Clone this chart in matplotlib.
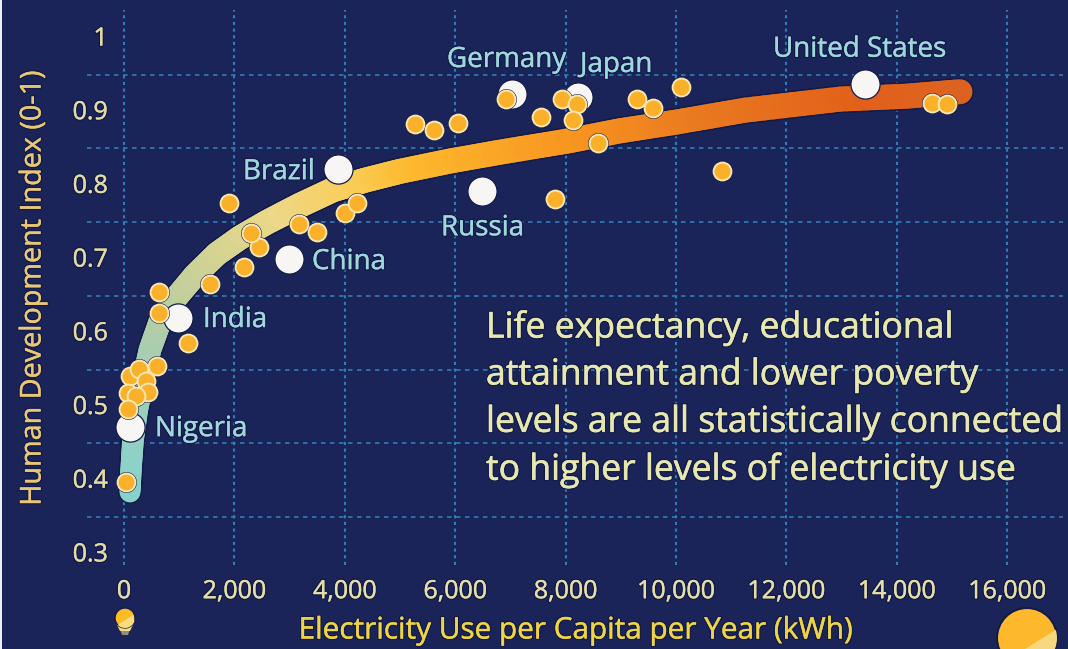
import numpy as np
import matplotlib
matplotlib.use("Agg")
import matplotlib.pyplot as plt
import matplotlib.patheffects as pe
import matplotlib.transforms as mtransforms
from matplotlib.collections import LineCollection
from matplotlib.colors import LinearSegmentedColormap
from matplotlib.patches import Circle, Polygon, Rectangle
from matplotlib.path import Path

plt.rcParams['font.family'] = ['Open Sans', 'DejaVu Sans']

BG = '#1b2459'
HALO = '#131a48'

# trend line, kWh per capita against HDI
curve_kwh = [109, 127, 163, 236, 326, 471, 652, 960, 1286, 1685, 2101, 2591, 3188,
             3786, 4366, 5000, 5906, 6812, 8025, 8986, 10018, 11250, 12971, 14185, 15145]
curve_hdi = [.384, .414, .454, .495, .529, .577, .615, .649, .678, .707, .729, .750, .773,
             .794, .807, .819, .833, .845, .860, .874, .886, .902, .917, .921, .927]

# named countries
country_names = ['Nigeria', 'India', 'China', 'Brazil', 'Russia', 'Germany', 'Japan', 'United States']
country_kwh = [109, 978, 2989, 3877, 6486, 7029, 8225, 13424]
country_hdi = [.472, .620, .700, .822, .792, .924, .920, .938]
label_offsets = [(25, -2), (25, -2), (23, -3), (-95, -3), (-41, -37), (-65, 34), (2, 32), (-92, 34)]

# other countries
other_kwh = [109, 272, 598, 399, 435, 72, 217, 72, 36, 634, 634, 1159, 1558, 2174, 2446, 2301,
             1902, 3170, 3496, 4004, 4221, 5272, 5616, 6051, 6920, 7554, 7935, 8207, 8134, 8587,
             7808, 9293, 9583, 10091, 10833, 14638, 14909]
other_hdi = [.541, .551, .555, .535, .520, .518, .514, .497, .397, .655, .627, .586, .666, .689,
             .716, .735, .776, .748, .737, .762, .776, .883, .875, .885, .917, .893, .917, .910,
             .889, .857, .781, .917, .905, .933, .819, .912, .910]

x_ticks = [0, 2000, 4000, 6000, 8000, 10000, 12000, 14000, 16000]
y_ticks = [.3, .4, .5, .6, .7, .8, .9, 1]
y_tick_labels = ['0.3', '0.4', '0.5', '0.6', '0.7', '0.8', '0.9', '1']
y_grid = [.35, .45, .55, .65, .75, .85, .95]

note_lines = ['Life expectancy, educational',
              'attainment and lower poverty',
              'levels are all statistically connected',
              'to higher levels of electricity use']


def heavy(color, extra=.45):
    # dark rim plus a thin stroke in the text colour to thicken the letters
    return [pe.Stroke(linewidth=2.2, foreground=HALO),
            pe.Stroke(linewidth=extra, foreground=color),
            pe.Normal()]


fig = plt.figure(figsize=(10.68, 6.49), dpi=100, facecolor=BG)
ax = fig.add_axes([87 / 1068, 84 / 649, 976 / 1068, 555 / 649], facecolor=BG)
ax.set_xlim(-670, 17011)
ax.set_ylim(.2849, 1.0379)
for s in ax.spines.values():
    s.set_visible(False)

# grid sits on the x ticks and halfway between the y ticks
ax.set_xticks(x_ticks)
ax.set_xticklabels([f'{v:,}' for v in x_ticks], fontsize=18, color='#e6dfa8', path_effects=heavy('#e6dfa8', .3))
ax.set_yticks(y_ticks)
ax.set_yticklabels(y_tick_labels, fontsize=18, color='#e3dba6', path_effects=heavy('#e3dba6', .3))
ax.set_yticks(y_grid, minor=True)
ax.tick_params(axis='x', length=0, pad=10.2)
ax.tick_params(axis='y', which='major', length=0, pad=-15)
ax.tick_params(axis='y', which='minor', length=0)
ax.grid(True, axis='x', color='#2e7db6', lw=1.5, ls=(0, (1.5, 1.7)))
ax.grid(True, axis='y', which='minor', color='#2e7db6', lw=1.2, ls=(0, (2.7, 2.7)))
ax.set_axisbelow(True)

lift = mtransforms.ScaledTranslation(0, 2 / 100, fig.dpi_scale_trans)
for lab in ax.get_yticklabels():
    lab.set_transform(lab.get_transform() + lift)

ax.set_xlabel('Electricity Use per Capita per Year (kWh)', fontsize=21.4, color='#efd544',
              path_effects=heavy('#efd544', .3))
ax.xaxis.set_label_coords((576 - 87) / 976, (565 - 631) / 555)
ax.xaxis.label.set_va('center')
ax.set_ylabel('Human Development Index (0-1)', fontsize=20.7, color='#e8c877',
              path_effects=heavy('#e8c877', .3))
ax.yaxis.set_label_coords((33 - 87) / 976, (565 - 288) / 555)
ax.yaxis.label.set_va('center')

# trend band, coloured along its length and getting slightly thicker
smooth = Path(np.column_stack([curve_kwh, curve_hdi])).interpolated(10).vertices
px = ax.transData.transform(smooth)
arc = np.concatenate([[0], np.cumsum(np.hypot(*np.diff(px, axis=0).T))])
arc = arc / arc[-1]
band_cmap = LinearSegmentedColormap.from_list('band', [
    (0, '#86d3cd'), (.06, '#93d0c4'), (.15, '#aacdb0'), (.21, '#c2cf9c'), (.33, '#ecd888'),
    (.41, '#fbce58'), (.47, '#fdb92e'), (.64, '#f7931f'), (.75, '#ea7a20'), (.91, '#e2611a'), (1, '#de621f')])
segs = np.stack([smooth[:-1], smooth[1:]], axis=1)
mid = (arc[:-1] + arc[1:]) / 2
widths = (21 + 4 * np.clip(mid * 3, 0, 1)) * .72
ax.add_collection(LineCollection(segs, linewidths=widths + 2.2, colors=HALO, capstyle='round', zorder=2))
ax.add_collection(LineCollection(segs, linewidths=widths, colors=band_cmap(mid), capstyle='round', zorder=2.1))

# white country dots go under the orange ones
ax.scatter(country_kwh, country_hdi, s=441, c='#f7f6f4', edgecolors=HALO, linewidths=.9, zorder=3)
ax.scatter(other_kwh, other_hdi, s=225, c=HALO, linewidths=0, zorder=4)
ax.scatter(other_kwh, other_hdi, s=165, c='#fbb02a', edgecolors='#f6e7b4', linewidths=1.4, zorder=4.1)

for name, x, y, off in zip(country_names, country_kwh, country_hdi, label_offsets):
    ax.annotate(name, (x, y), xytext=off, textcoords='offset pixels', ha='left', va='center',
                fontsize=20, color='#9fd8dc', path_effects=heavy('#9fd8dc', .3), zorder=5)

for i, line in enumerate(note_lines):
    ax.annotate(line, xy=(486, 649 - (328 + i * 47.4)), xycoords='figure pixels', ha='left', va='center',
                fontsize=25.6, color='#e7e8b0', path_effects=heavy('#e7e8b0'), zorder=5)

# size key icons and the pale strip on the left edge, in pixel coordinates
deco = fig.add_axes([0, 0, 1, 1], facecolor='none')
deco.set_xlim(0, 1068)
deco.set_ylim(649, 0)
deco.axis('off')
deco.add_patch(Rectangle((0, 0), 2, 649, fc='#eef0f4', ec='none'))

deco.add_patch(Polygon([(120, 629), (130, 629), (128, 635), (122, 635)], fc='#8f8f80', ec='none'))
deco.add_patch(Polygon([(116, 623), (134, 623), (130, 631), (120, 631)], fc='#f9dc7e', ec='none'))
bulb = Circle((125, 618), 10, fc='#fdbb26', ec=HALO, lw=1)
deco.add_patch(bulb)
bulb_light = Polygon([(113, 628), (133, 615), (137, 630)], fc='#f9dc7e', ec='none')
deco.add_patch(bulb_light)
bulb_light.set_clip_path(bulb)

big = Circle((1027, 638), 30, fc='#fdb92b', ec=HALO, lw=1.5)
deco.add_patch(big)
big_light = Polygon([(995, 668), (1062, 626), (1062, 668)], fc='#f8d87e', ec='none')
deco.add_patch(big_light)
big_light.set_clip_path(big)

fig.savefig('out.png', dpi=100, facecolor=BG)
